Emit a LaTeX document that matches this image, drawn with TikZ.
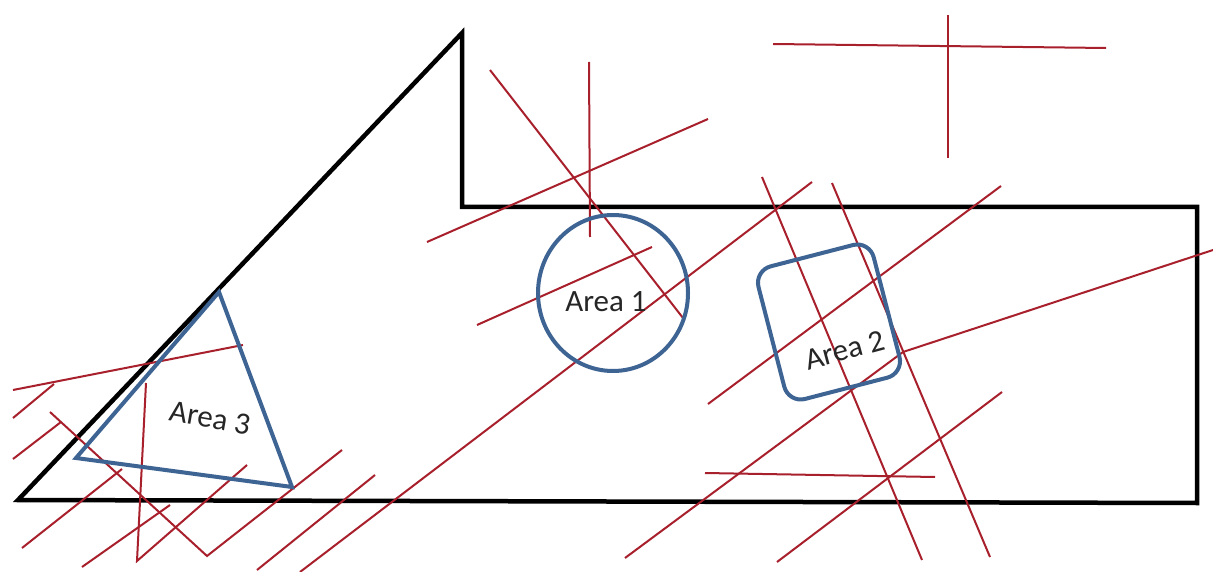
\documentclass[tikz,border=0pt]{standalone}
\usepackage{fontspec}
\setmainfont{Carlito}
\definecolor{cutred}{RGB}{168,32,44}
\definecolor{areablue}{RGB}{62,100,148}
\tikzset{
  outline/.style={draw=black, line width=4.5pt, line join=miter},
  cut/.style={draw=cutred, line width=2pt},
  area/.style={draw=areablue, line width=4pt},
  lbl/.style={font=\fontsize{31}{36}\selectfont, text=black!85, inner sep=0pt}
}
\begin{document}
\begin{tikzpicture}[x=1pt,y=-1pt]
\useasboundingbox (0,0) rectangle (1213,572);
\fill[white] (0,0) rectangle (1213,572);
% black outline
\draw[outline] (18,500) -- (462,33) -- (462,207) -- (1197,207) -- (1197,503) -- cycle;
% red lines
\draw[cut] (773,44) -- (1106,48);
\draw[cut] (948,15) -- (948,158);
\draw[cut] (490,70) -- (683,318);
\draw[cut] (589,62) -- (590,237);
\draw[cut] (427,242) -- (708,119);
\draw[cut] (477,325) -- (652,247);
\draw[cut] (812,182) -- (300,572);
\draw[cut] (762,177) -- (922,560);
\draw[cut] (832,183) -- (990,557);
\draw[cut] (708,404) -- (1001,186);
\draw[cut] (625,558) -- (903,352) -- (1213,250);
\draw[cut] (777,562) -- (1002,392);
\draw[cut] (705,473) -- (935,477);
\draw[cut] (13,390) -- (243,345);
\draw[cut] (13,418) -- (54,384);
\draw[cut] (13,459) -- (61,422);
\draw[cut] (50,412) -- (207,556) -- (342,450);
\draw[cut] (146,383) -- (137,561) -- (247,465);
\draw[cut] (22,548) -- (122,469);
\draw[cut] (82,567) -- (170,505);
\draw[cut] (257,570) -- (375,475);
% blue areas
\draw[area] (613,293) ellipse [x radius=75, y radius=78];
\node[area, rounded corners=17pt, minimum width=119pt, minimum height=137pt, rotate=14.5, inner sep=0pt] (a2) at (829,322) {};
\draw[area, line join=miter] (219,292) -- (76,458) -- (292,487) -- cycle;
% labels
\node[lbl] (l1) at (606,302) {Area 1};
\node[lbl, rotate=15] (l2) at (845,350) {Area 2};
\node[lbl, rotate=-10] (l3) at (210,418) {Area 3};
\end{tikzpicture}
\end{document}
